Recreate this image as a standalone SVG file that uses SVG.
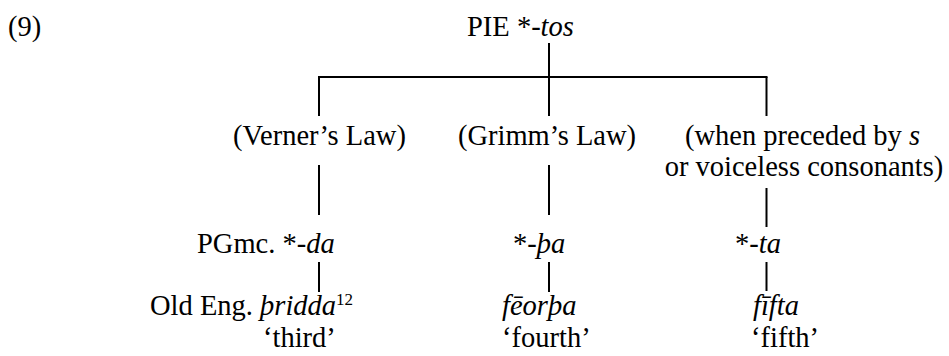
<svg xmlns="http://www.w3.org/2000/svg" width="949" height="356" viewBox="0 0 949 356">
<style>
text { font-family: "Liberation Serif", "Times New Roman", serif; font-size: 28.5px; fill: #000; }
.i { font-style: italic; }
.sup { font-size: 17px; }
.ln { stroke: #000; stroke-width: 2; fill: none; }
</style>
<rect width="949" height="356" fill="#fff"/>
<text id="label9" x="8" y="36">(9)</text>
<g id="connectors">
<line class="ln" x1="549" y1="43" x2="549" y2="77"/>
<line class="ln" x1="318" y1="77" x2="767.5" y2="77"/>
<line class="ln" x1="319" y1="77" x2="319" y2="116"/>
<line class="ln" x1="549" y1="77" x2="549" y2="116"/>
<line class="ln" x1="766.5" y1="77" x2="766.5" y2="116"/>
<line class="ln" x1="319" y1="165" x2="319" y2="215"/>
<line class="ln" x1="549" y1="165" x2="549" y2="215"/>
<line class="ln" x1="766.5" y1="188" x2="766.5" y2="227"/>
<line class="ln" x1="319" y1="262" x2="319" y2="292"/>
<line class="ln" x1="549" y1="262" x2="549" y2="292"/>
<line class="ln" x1="766.5" y1="262" x2="766.5" y2="291"/>
</g>
<g id="pie"><text x="467" y="36">PIE *<tspan class="i">-tos</tspan></text></g>
<g id="verner"><text x="319.5" y="145" text-anchor="middle">(Verner’s Law)</text></g>
<g id="grimm"><text x="547" y="145" text-anchor="middle">(Grimm’s Law)</text></g>
<g id="voiceless">
<text x="802.5" y="145" text-anchor="middle">(when preceded by <tspan class="i">s</tspan></text>
<text x="804" y="176" text-anchor="middle">or voiceless consonants)</text>
</g>
<g id="pgmc"><text x="197" y="253">PGmc. *<tspan class="i">-da</tspan></text></g>
<g id="tha"><text x="513" y="253">*<tspan class="i">-þa</tspan></text></g>
<g id="ta"><text x="735" y="253">*<tspan class="i">-ta</tspan></text></g>
<g id="thridda">
<text x="150" y="315">Old Eng. <tspan class="i">þridda</tspan><tspan class="sup" dy="-10">12</tspan></text>
<text x="263" y="347">‘third’</text>
</g>
<g id="feorpa">
<text x="502" y="315" class="i">fēorþa</text>
<text x="502" y="347">‘fourth’</text>
</g>
<g id="fifta">
<text x="753" y="315" class="i">fīfta</text>
<text x="751" y="347">‘fifth’</text>
</g>
</svg>
